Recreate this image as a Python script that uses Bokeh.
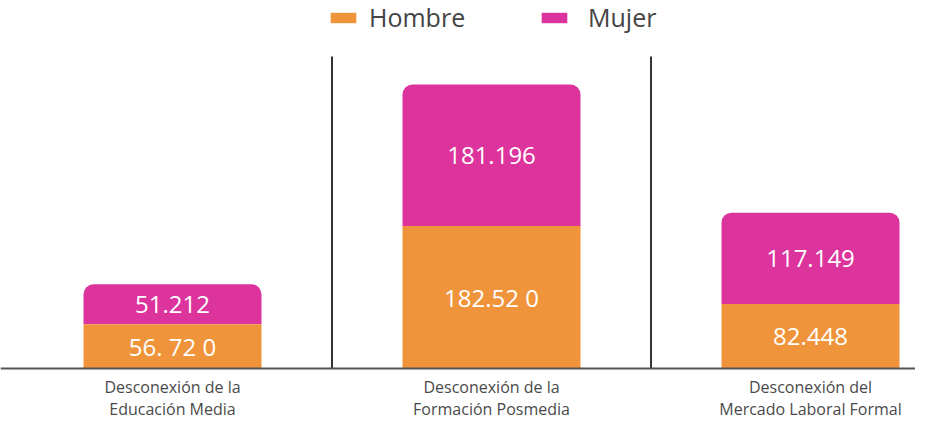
from bokeh.plotting import figure
from bokeh.models import Range1d, Span, Legend, LegendItem, ColumnDataSource
from bokeh.core.properties import value
from bokeh.embed import file_html
from bokeh.resources import INLINE

# ---- data ----
categories = ["Desconexión de la\nEducación Media",
              "Desconexión de la\nFormación Posmedia",
              "Desconexión del\nMercado Laboral Formal"]
series = ["Hombre", "Mujer"]
hombre = [56720, 182520, 82448]
mujer = [51212, 181196, 117149]
hombre_labels = ["56. 72 0", "182.52 0", "82.448"]
mujer_labels = ["51.212", "181.196", "117.149"]

# ---- styles ----
ORANGE = "#F0943B"
MAGENTA = "#DC339C"
TEXT = "#4a4a4a"
FONT = "Open Sans"

xs = list(range(len(categories)))
tops = [h + m for h, m in zip(hombre, mujer)]
src = ColumnDataSource(dict(
    x=xs, hombre=hombre, tops=tops,
    h_mid=[h / 2 for h in hombre],
    m_mid=[h + m / 2 for h, m in zip(hombre, mujer)],
    h_lab=hombre_labels, m_lab=mujer_labels, cat=categories,
))

p = figure(width=915, height=419, output_backend="svg", toolbar_location=None,
           x_range=Range1d(-0.5392, 2.3291), y_range=Range1d(-65320, 471300),
           x_axis_location=None, y_axis_location=None, min_border=0,
           outline_line_color=None, background_fill_color="white")
p.grid.visible = False

bar_w = 0.558
r_m = p.vbar(x="x", bottom="hombre", top="tops", width=bar_w, source=src,
             fill_color=MAGENTA, line_color=None, border_radius=(10, 10, 0, 0))
r_h = p.vbar(x="x", bottom=0, top="hombre", width=bar_w, source=src,
             fill_color=ORANGE, line_color=None)

# value labels
p.text(x="x", y="h_mid", text="h_lab", source=src, text_align="center",
       text_baseline="middle", text_color="white", text_font=value(FONT),
       text_font_size="24px")
p.text(x="x", y="m_mid", text="m_lab", source=src, text_align="center",
       text_baseline="middle", text_color="white", text_font=value(FONT),
       text_font_size="24px")

# category labels
p.text(x="x", y=0, text="cat", source=src, text_align="center",
       text_baseline="top", y_offset=8, text_color=TEXT,
       text_font=value(FONT), text_font_size="16px", text_line_height=1.0)

# separators
p.segment(x0=[0.5, 1.5], y0=[0, 0], x1=[0.5, 1.5], y1=[399580, 399580],
          line_color="#333333", line_width=2)
p.add_layout(Span(location=0, dimension="width", line_color="#555555",
                  line_width=2))

common = dict(orientation="horizontal", padding=0, margin=0,
              glyph_width=32, glyph_height=13,
              border_line_alpha=0, background_fill_alpha=0,
              label_text_font=FONT, label_text_font_size="25px",
              label_text_color="#444444")
leg1 = Legend(items=[LegendItem(label=series[0], renderers=[r_h])],
              location=(327, 385), label_standoff=10, **common)
leg2 = Legend(items=[LegendItem(label=series[1], renderers=[r_m])],
              location=(538, 385), label_standoff=18, **common)
p.add_layout(leg1, "center")
p.add_layout(leg2, "center")

open("out.html", "w").write(file_html(p, INLINE))
